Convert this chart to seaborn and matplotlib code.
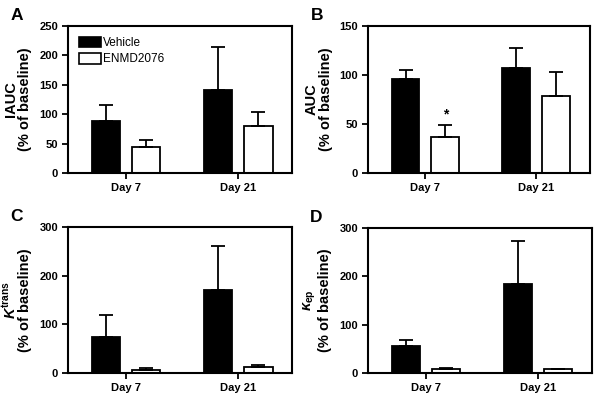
import matplotlib
matplotlib.use("Agg")
import matplotlib.pyplot as plt
import pandas as pd
import seaborn as sns
from matplotlib.patches import Patch

DAYS = ["Day 7", "Day 21"]
GROUPS = ["Vehicle", "ENMD2076"]

# panel A: IAUC
iauc_vehicle = [88, 142]
iauc_vehicle_sem = [27, 73]
iauc_enmd = [45, 80]
iauc_enmd_sem = [11, 23]

# panel B: AUC
auc_vehicle = [96, 107]
auc_vehicle_sem = [9, 21]
auc_enmd = [37, 79]
auc_enmd_sem = [12, 24]

# panel C: Ktrans
ktrans_vehicle = [75, 171]
ktrans_vehicle_sem = [44, 90]
ktrans_enmd = [7, 12]
ktrans_enmd_sem = [3, 5]

# panel D: kep
kep_vehicle = [55, 184]
kep_vehicle_sem = [14, 90]
kep_enmd = [8, 8]
kep_enmd_sem = [2, 1]

sns.set_style("ticks")
plt.rcParams["font.family"] = ["Liberation Sans", "DejaVu Sans"]
plt.rcParams["mathtext.fontset"] = "custom"
plt.rcParams["mathtext.rm"] = "Liberation Sans:bold"
plt.rcParams["mathtext.it"] = "Liberation Sans:bold:italic"
plt.rcParams["mathtext.bf"] = "Liberation Sans:bold"
for key in ["text.color", "axes.labelcolor", "xtick.color", "ytick.color", "axes.edgecolor"]:
    plt.rcParams[key] = "black"

PALETTE = {"Vehicle": "black", "ENMD2076": "white"}


def make_frame(vehicle, enmd):
    rows = []
    for day, v in zip(DAYS, vehicle):
        rows.append({"day": day, "group": "Vehicle", "value": v})
    for day, v in zip(DAYS, enmd):
        rows.append({"day": day, "group": "ENMD2076", "value": v})
    return pd.DataFrame(rows)


def draw_panel(ax, vehicle, vehicle_sem, enmd, enmd_sem, ymax, step, ylabel, letter):
    df = make_frame(vehicle, enmd)
    sns.barplot(data=df, x="day", y="value", hue="group", order=DAYS,
                hue_order=GROUPS, palette=PALETTE, edgecolor="black",
                linewidth=1.3, width=0.72, gap=0.3, errorbar=None,
                legend=False, ax=ax)
    for container, sems in zip(ax.containers, [vehicle_sem, enmd_sem]):
        for bar, sem in zip(container, sems):
            xc = bar.get_x() + bar.get_width() / 2
            h = bar.get_height()
            ax.errorbar(xc, h, yerr=[[0], [sem]], color="black",
                        elinewidth=1.3, capsize=5, capthick=1.3, zorder=1)
    ax.set_xlim(-0.52, 1.48)
    ax.set_ylim(0, ymax)
    ax.set_yticks(range(0, ymax + 1, step))
    ax.set_xlabel("")
    ax.set_ylabel(ylabel, fontsize=10.5, fontweight="bold", linespacing=1.0, labelpad=5)
    for lbl in ax.get_xticklabels() + ax.get_yticklabels():
        lbl.set_fontweight("bold")
        lbl.set_fontsize(8)
    ax.tick_params(length=4, width=1.3, direction="out", pad=3)
    for sp in ax.spines.values():
        sp.set_linewidth(1.5)
        sp.set_color("black")
    ax.text(-0.23, 1.07, letter, transform=ax.transAxes, fontsize=12.5,
            fontweight="bold", va="center", ha="center")
    return ax


fig = plt.figure(figsize=(6.01, 4.0), dpi=100)
ax_a = fig.add_axes([0.113, 0.5675, 0.373, 0.3675])
ax_b = fig.add_axes([0.612, 0.5675, 0.369, 0.3675])
ax_c = fig.add_axes([0.113, 0.0675, 0.373, 0.365])
ax_d = fig.add_axes([0.612, 0.0675, 0.373, 0.3625])

draw_panel(ax_a, iauc_vehicle, iauc_vehicle_sem, iauc_enmd, iauc_enmd_sem,
           250, 50, "IAUC\n(% of baseline)", "A")
draw_panel(ax_b, auc_vehicle, auc_vehicle_sem, auc_enmd, auc_enmd_sem,
           150, 50, "AUC\n(% of baseline)", "B")
draw_panel(ax_c, ktrans_vehicle, ktrans_vehicle_sem, ktrans_enmd, ktrans_enmd_sem,
           300, 100, "$K^{\\mathrm{trans}}$\n(% of baseline)", "C")
draw_panel(ax_d, kep_vehicle, kep_vehicle_sem, kep_enmd, kep_enmd_sem,
           300, 100, "$\\kappa_{\\mathrm{ep}}$\n(% of baseline)", "D")

# significance marker on ENMD2076 day 7 in panel B
star_bar = ax_b.containers[1][0]
ax_b.text(star_bar.get_x() + star_bar.get_width() / 2,
          auc_enmd[0] + auc_enmd_sem[0] + 4, "*", ha="center", va="bottom",
          fontsize=10, fontweight="bold")

handles = [Patch(facecolor=PALETTE[g], edgecolor="black", linewidth=1.2, label=g)
           for g in GROUPS]
ax_a.legend(handles=handles, loc="upper left", frameon=False, fontsize=8.5,
            handlelength=1.9, handleheight=1.0, handletextpad=0.2,
            borderaxespad=0.5, labelspacing=0.35)

fig.savefig("out.png", dpi=100)
